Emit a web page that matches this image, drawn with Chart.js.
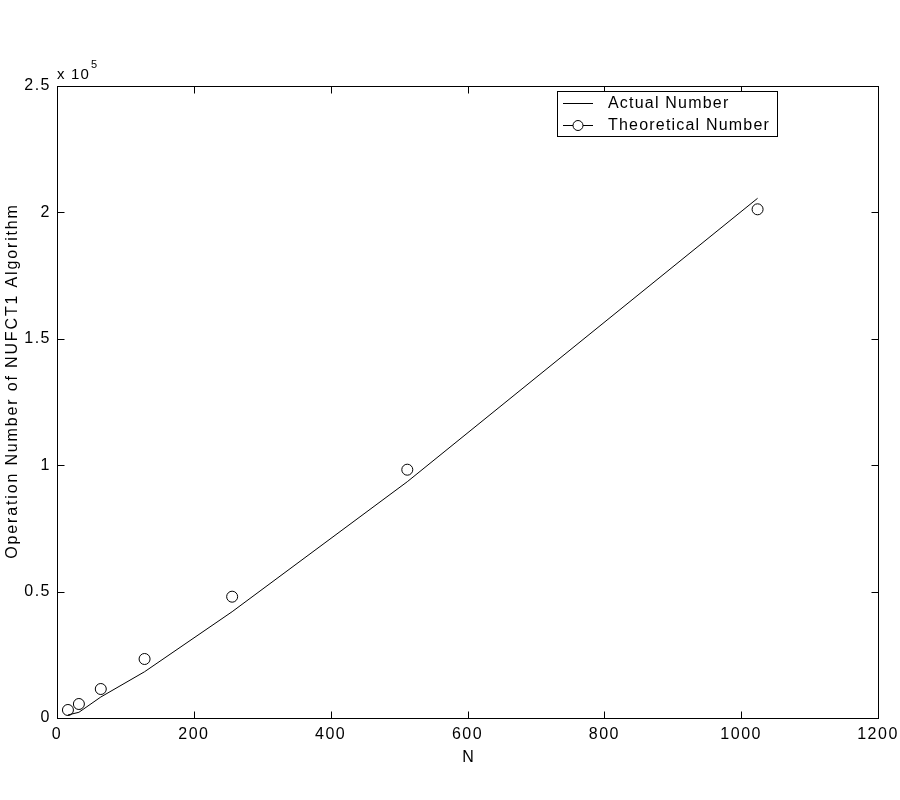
<!DOCTYPE html>
<html><head><meta charset="utf-8">
<script src="https://cdn.jsdelivr.net/npm/chart.js@4/dist/chart.umd.min.js"></script>
<style>html,body{margin:0;padding:0;background:#fff}#wrap{width:900px;height:800px}</style>
</head><body><div id="wrap"><canvas id="c" width="900" height="800"></canvas></div>
<script>
const nValues = [16, 32, 64, 128, 256, 512, 1024];
const actualNumber = [1200, 2250, 8300, 18300, 42050, 93470, 205580];
const theoreticalNumber = [3165, 5538, 11470, 23340, 47983, 98220, 201225];
const xTicks = [0, 200, 400, 600, 800, 1000, 1200];
const yTicks = [0, 50000, 100000, 150000, 200000, 250000];
const seriesLabels = ['Actual Number', 'Theoretical Number'];
const xTitle = 'N';
const yTitle = 'Operation Number of NUFCT1 Algorithm';
const yExponentBase = 'x 10';
const yExponent = '5';

const FONT = '"Liberation Sans", Arial, Helvetica, sans-serif';
const TICK_SPACING = '1.5px';

const toPoints = (xs, ys) => xs.map((x, i) => ({x: x, y: ys[i]}));

const decor = {
  id: 'decor',
  beforeDraw(chart) { chart.ctx.letterSpacing = TICK_SPACING; },
  afterDraw(chart) {
    const ctx = chart.ctx;
    const a = chart.chartArea;
    const xs = chart.scales.x, ys = chart.scales.y;
    ctx.save();
    ctx.strokeStyle = '#000';
    ctx.lineWidth = 1;
    const L = Math.round(a.left) + 0.5, R = Math.round(a.right) + 0.5;
    const T = Math.round(a.top) + 0.5, B = Math.round(a.bottom) + 0.5;
    ctx.strokeRect(L, T, R - L, B - T);
    const tl = 7;
    ctx.beginPath();
    xTicks.forEach(v => {
      const px = Math.round(xs.getPixelForValue(v)) + 0.5;
      ctx.moveTo(px, B); ctx.lineTo(px, B - tl);
      ctx.moveTo(px, T); ctx.lineTo(px, T + tl);
    });
    yTicks.forEach(v => {
      const py = Math.round(ys.getPixelForValue(v)) + 0.5;
      ctx.moveTo(L, py); ctx.lineTo(L + tl, py);
      ctx.moveTo(R, py); ctx.lineTo(R - tl, py);
    });
    ctx.stroke();

    ctx.fillStyle = '#000';
    // exponent label
    ctx.letterSpacing = '1.2px';
    ctx.font = '15px ' + FONT;
    ctx.textAlign = 'left';
    ctx.textBaseline = 'alphabetic';
    ctx.fillText(yExponentBase, 57, 79);
    ctx.font = '11px ' + FONT;
    ctx.fillText(yExponent, 91, 68);

    // axis titles
    ctx.font = '16px ' + FONT;
    ctx.textAlign = 'center';
    ctx.textBaseline = 'middle';
    ctx.letterSpacing = '1px';
    ctx.fillText(xTitle, (a.left + a.right) / 2 + 1, 758);
    ctx.save();
    ctx.letterSpacing = '1.85px';
    ctx.translate(13, 381);
    ctx.rotate(-Math.PI / 2);
    ctx.fillText(yTitle, 0, 0);
    ctx.restore();

    // legend
    ctx.fillStyle = '#fff';
    ctx.fillRect(557.5, 91.5, 220, 45);
    ctx.strokeRect(557.5, 91.5, 220, 45);
    ctx.fillStyle = '#000';
    const rows = [103, 125];
    ctx.beginPath();
    rows.forEach(y => { ctx.moveTo(563, y + 0.5); ctx.lineTo(593, y + 0.5); });
    ctx.stroke();
    ctx.beginPath();
    ctx.arc(578, 125.5, 5, 0, Math.PI * 2);
    ctx.fillStyle = '#fff';
    ctx.fill();
    ctx.stroke();
    ctx.fillStyle = '#000';
    ctx.letterSpacing = '1.2px';
    ctx.font = '16px ' + FONT;
    ctx.textAlign = 'left';
    ctx.textBaseline = 'middle';
    rows.forEach((y, i) => ctx.fillText(seriesLabels[i], 608, y + 1));
    ctx.restore();
  }
};

new Chart(document.getElementById('c'), {
  type: 'scatter',
  data: {
    datasets: [
      {
        label: seriesLabels[0],
        data: toPoints(nValues, actualNumber),
        showLine: true,
        borderColor: '#000',
        borderWidth: 1,
        pointRadius: 0,
        fill: false
      },
      {
        label: seriesLabels[1],
        data: toPoints(nValues, theoreticalNumber),
        showLine: false,
        borderColor: '#000',
        backgroundColor: 'rgba(0,0,0,0)',
        borderWidth: 1,
        pointRadius: 5.5,
        pointStyle: 'circle'
      }
    ]
  },
  options: {
    responsive: false,
    animation: false,
    devicePixelRatio: 1,
    layout: {padding: {top: 86, right: 22, left: 0, bottom: 0}},
    plugins: {legend: {display: false}, tooltip: {enabled: false}, title: {display: false}},
    scales: {
      x: {
        type: 'linear', min: 0, max: 1200,
        afterBuildTicks: s => { s.ticks = xTicks.map(v => ({value: v})); },
        afterFit: s => { s.height = 82; s.paddingRight = 0; s.paddingLeft = 0; },
        grid: {display: false, drawTicks: false},
        border: {display: false},
        ticks: {color: '#000', font: {size: 16, family: FONT}, padding: 7, maxRotation: 0,
                callback: v => String(v)}
      },
      y: {
        type: 'linear', min: 0, max: 250000,
        afterBuildTicks: s => { s.ticks = yTicks.map(v => ({value: v})); },
        afterFit: s => { s.width = 57; s.paddingTop = 0; s.paddingBottom = 0; },
        grid: {display: false, drawTicks: false},
        border: {display: false},
        ticks: {color: '#000', font: {size: 16, family: FONT}, padding: 6,
                callback: v => String(v / 100000)}
      }
    }
  },
  plugins: [decor]
});
</script>
</body></html>
